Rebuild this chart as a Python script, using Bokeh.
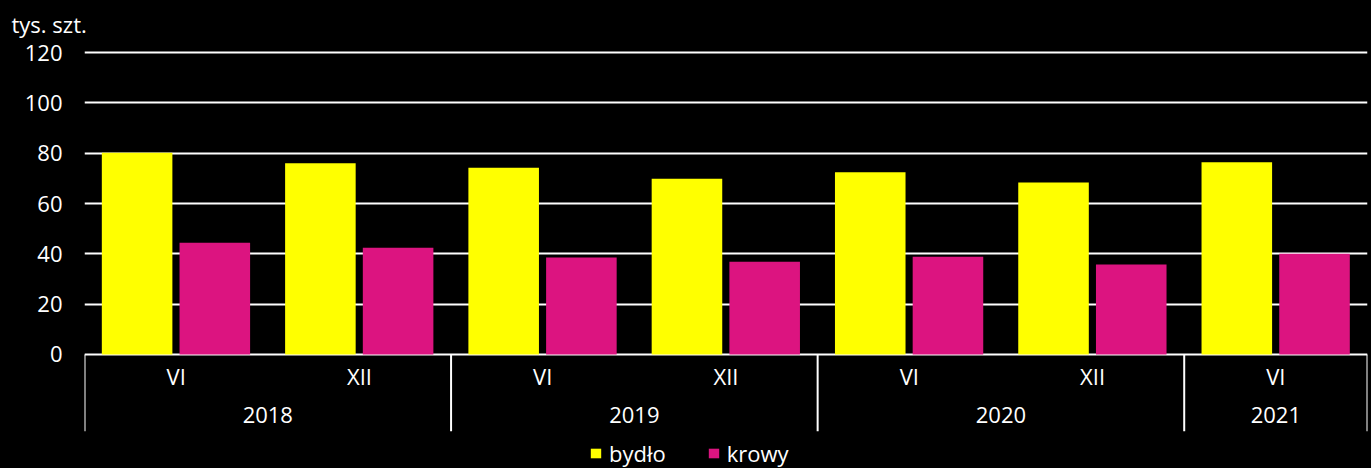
from bokeh.plotting import figure
from bokeh.models import FactorRange, Range1d, FixedTicker, ColumnDataSource
from bokeh.transform import dodge
from bokeh.core.properties import value
from bokeh.embed import file_html
from bokeh.resources import INLINE

# ---- data ----
years = ["2018", "2018", "2019", "2019", "2020", "2020", "2021"]
months = ["VI", "XII", "VI", "XII", "VI", "XII", "VI"]
bydlo = [80.2, 76.0, 74.2, 69.8, 72.4, 68.3, 76.4]
krowy = [44.4, 42.4, 38.5, 36.9, 38.8, 35.8, 40.0]
year_labels = ["2018", "2019", "2020", "2021"]
y_ticks = [0, 20, 40, 60, 80, 100, 120]
series_names = ["bydło", "krowy"]
unit_label = "tys. szt."

# ---- style ----
FONT = "Open Sans"
FS = "22px"
YELLOW = "#FFFF00"
PINK = "#DC1480"

factors = list(zip(years, months))
xr = FactorRange(*factors, group_padding=0, factor_padding=0,
                 subgroup_padding=0, range_padding=0)
yr = Range1d(-45.3, 124.77)

p = figure(x_range=xr, y_range=yr, width=1371, height=468,
           output_backend="svg", toolbar_location=None,
           x_axis_location=None, min_border_left=84, min_border_right=4,
           min_border_top=40, min_border_bottom=0,
           title=unit_label)
p.background_fill_color = "black"
p.border_fill_color = "black"
p.outline_line_color = None

# unit label as title
p.title.align = "left"
p.title.offset = -73
p.title.standoff = 4
p.title.text_color = "white"
p.title.text_font = FONT
p.title.text_font_size = FS
p.title.text_font_style = "normal"

src = ColumnDataSource(dict(f=factors, bydlo=bydlo, krowy=krowy))

p.vbar(x=dodge("f", -0.213, range=xr), top="bydlo", bottom=0, width=0.385,
       source=src, fill_color=YELLOW, line_color=None, legend_label=series_names[0])
p.vbar(x=dodge("f", 0.211, range=xr), top="krowy", bottom=0, width=0.385,
       source=src, fill_color=PINK, line_color=None, legend_label=series_names[1])

# y axis / grid
p.yaxis.ticker = FixedTicker(ticks=y_ticks)
p.yaxis.axis_line_color = None
p.yaxis.major_tick_line_color = None
p.yaxis.minor_tick_line_color = None
p.yaxis.major_tick_out = 0
p.yaxis.major_label_standoff = 22
p.yaxis.major_label_text_font = FONT
p.yaxis.major_label_text_font_size = FS
p.yaxis.major_label_text_color = "white"
p.ygrid.ticker = FixedTicker(ticks=y_ticks)
p.ygrid.grid_line_color = "white"
p.ygrid.grid_line_width = 2
p.xgrid.grid_line_color = None

# category labels
p.text(x=factors, y=-8.4, text=months, text_align="center", text_baseline="middle",
       text_color="white", text_font=value(FONT), text_font_size=FS)
p.text(x=year_labels, y=-24.1, text=year_labels, text_align="center", text_baseline="middle",
       text_color="white", text_font=value(FONT), text_font_size=FS)

# group separators
first_of_year = []
for y in year_labels:
    first_of_year.append(factors[years.index(y)])
sep_left = ColumnDataSource(dict(f=first_of_year))
sep_right = ColumnDataSource(dict(f=[factors[-1]]))
p.segment(x0=dodge("f", -0.5, range=xr), x1=dodge("f", -0.5, range=xr), y0=0, y1=-30.5,
          source=sep_left, line_color="white", line_width=2)
p.segment(x0=dodge("f", 0.5, range=xr), x1=dodge("f", 0.5, range=xr), y0=0, y1=-30.5,
          source=sep_right, line_color="white", line_width=2)

# legend
lg = p.legend[0]
lg.orientation = "horizontal"
lg.location = (505, 0)
lg.background_fill_alpha = 0
lg.border_line_color = None
lg.padding = 0
lg.margin = 0
lg.spacing = 41
lg.glyph_width = 13
lg.glyph_height = 12
lg.label_standoff = 7
lg.label_text_font = FONT
lg.label_text_font_size = FS
lg.label_text_color = "white"

html = file_html(p, INLINE)
html = html.replace("<head>", "<head><style>html,body{background:#000;overflow:hidden;}</style>", 1)
open("out.html", "w").write(html)
